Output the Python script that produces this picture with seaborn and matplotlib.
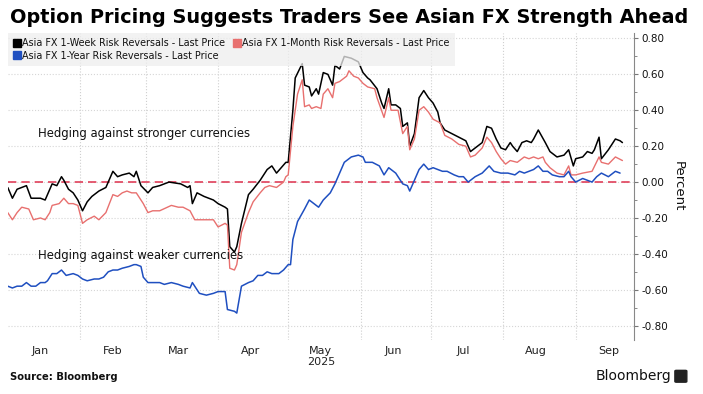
import pandas as pd
import matplotlib.pyplot as plt
import seaborn as sns
from matplotlib.lines import Line2D
from matplotlib.ticker import MultipleLocator, FuncFormatter
from matplotlib.patches import FancyBboxPatch

# Values (days counted from 1 Jan 2025)
week_days = [0, 2, 4, 8, 10, 14, 16, 19, 21, 23, 24, 26, 28, 30, 32, 34, 36, 39, 42, 45,
             47, 49, 52, 54, 55, 57, 60, 62, 65, 69, 74, 77, 78, 79, 81, 84, 88, 90, 93, 94,
             95, 97, 98, 100, 103, 105, 108, 111, 113, 115, 117, 119, 120, 122, 123, 126, 127, 129, 130, 132,
             133, 135, 137, 139, 140, 142, 144, 147, 150, 152, 154, 155, 158, 160, 161, 163, 164, 166, 168, 169,
             171, 172, 174, 176, 178, 180, 182, 184, 185, 187, 190, 193, 196, 198, 200, 203, 205, 207, 209, 211,
             213, 215, 216, 218, 220, 222, 224, 225, 227, 230, 232, 235, 238, 240, 242, 243, 246, 248, 250, 251,
             253, 254, 257, 260, 262, 263]
week_vals = [-0.03, -0.09, -0.04, -0.02, -0.09, -0.09, -0.10, -0.01, -0.02, 0.03, 0.01, -0.04, -0.06, -0.10, -0.16, -0.11, -0.08, -0.05, -0.03, 0.06,
             0.03, 0.04, 0.05, 0.03, 0.06, -0.02, -0.06, -0.03, -0.02, 0.00, -0.01, -0.03, -0.02, -0.12, -0.06, -0.08, -0.10, -0.12, -0.14, -0.15,
             -0.36, -0.39, -0.36, -0.23, -0.07, -0.04, 0.01, 0.07, 0.09, 0.05, 0.08, 0.11, 0.11, 0.40, 0.58, 0.66, 0.54, 0.53, 0.48, 0.52,
             0.49, 0.61, 0.60, 0.54, 0.65, 0.63, 0.70, 0.69, 0.67, 0.61, 0.58, 0.57, 0.52, 0.44, 0.41, 0.52, 0.43, 0.43, 0.41, 0.31,
             0.33, 0.20, 0.27, 0.47, 0.51, 0.47, 0.44, 0.39, 0.33, 0.29, 0.27, 0.25, 0.23, 0.17, 0.19, 0.22, 0.31, 0.30, 0.24, 0.19,
             0.18, 0.22, 0.20, 0.17, 0.22, 0.23, 0.22, 0.24, 0.29, 0.22, 0.17, 0.14, 0.15, 0.18, 0.09, 0.13, 0.14, 0.17, 0.16, 0.18,
             0.25, 0.13, 0.18, 0.24, 0.23, 0.22]

month_days = [0, 2, 4, 6, 9, 11, 14, 16, 18, 19, 22, 24, 26, 28, 30, 32, 34, 37, 39, 42,
              45, 47, 49, 51, 53, 55, 58, 60, 62, 65, 70, 73, 75, 78, 80, 84, 88, 90, 93, 94,
              95, 97, 98, 100, 103, 105, 108, 110, 112, 115, 118, 119, 120, 122, 124, 126, 127, 129, 130, 132,
              134, 135, 137, 139, 140, 142, 145, 146, 148, 150, 152, 154, 157, 158, 161, 163, 164, 167, 169, 171,
              172, 174, 176, 178, 180, 182, 185, 187, 190, 193, 196, 198, 200, 203, 205, 207, 209, 211, 213, 215,
              218, 221, 223, 225, 227, 229, 230, 232, 235, 238, 240, 241, 243, 246, 250, 253, 254, 257, 260, 263]
month_vals = [-0.17, -0.21, -0.17, -0.14, -0.15, -0.21, -0.20, -0.21, -0.17, -0.13, -0.12, -0.09, -0.12, -0.12, -0.13, -0.23, -0.21, -0.19, -0.21, -0.17,
              -0.07, -0.08, -0.06, -0.05, -0.06, -0.06, -0.12, -0.17, -0.16, -0.16, -0.13, -0.14, -0.14, -0.16, -0.21, -0.21, -0.21, -0.25, -0.23, -0.24,
              -0.48, -0.49, -0.46, -0.28, -0.17, -0.11, -0.06, -0.03, -0.02, -0.03, 0.00, 0.03, 0.04, 0.31, 0.49, 0.57, 0.42, 0.43, 0.41, 0.42,
              0.41, 0.49, 0.52, 0.47, 0.55, 0.56, 0.59, 0.62, 0.59, 0.58, 0.55, 0.53, 0.52, 0.47, 0.36, 0.47, 0.40, 0.40, 0.27, 0.31,
              0.18, 0.24, 0.40, 0.42, 0.39, 0.35, 0.33, 0.26, 0.24, 0.21, 0.20, 0.14, 0.15, 0.19, 0.25, 0.22, 0.17, 0.13, 0.10, 0.12,
              0.11, 0.14, 0.13, 0.14, 0.13, 0.14, 0.11, 0.08, 0.05, 0.04, 0.09, 0.04, 0.04, 0.05, 0.06, 0.14, 0.11, 0.10, 0.14, 0.12]

year_days = [0, 2, 4, 6, 8, 10, 12, 14, 16, 17, 19, 21, 23, 25, 28, 30, 32, 34, 37, 39,
             41, 43, 45, 47, 49, 52, 54, 55, 57, 58, 60, 62, 65, 67, 70, 73, 75, 78, 79, 82,
             85, 88, 90, 93, 94, 97, 98, 100, 103, 105, 107, 109, 111, 113, 116, 118, 120, 121, 122, 124,
             127, 129, 131, 133, 135, 138, 140, 142, 144, 147, 150, 152, 153, 156, 159, 161, 163, 164, 166, 169,
             171, 172, 174, 176, 178, 180, 182, 184, 186, 188, 191, 193, 195, 197, 200, 203, 206, 208, 211, 214,
             217, 219, 221, 223, 225, 227, 229, 231, 233, 236, 238, 240, 241, 243, 246, 248, 250, 252, 254, 257,
             260, 262]
year_vals = [-0.58, -0.59, -0.58, -0.58, -0.56, -0.58, -0.58, -0.56, -0.56, -0.55, -0.51, -0.51, -0.49, -0.52, -0.51, -0.52, -0.54, -0.55, -0.54, -0.54,
             -0.53, -0.50, -0.49, -0.49, -0.48, -0.47, -0.46, -0.46, -0.47, -0.53, -0.56, -0.56, -0.56, -0.57, -0.56, -0.57, -0.58, -0.59, -0.56, -0.62,
             -0.63, -0.62, -0.61, -0.61, -0.71, -0.72, -0.73, -0.58, -0.56, -0.55, -0.52, -0.52, -0.50, -0.51, -0.51, -0.49, -0.46, -0.46, -0.32, -0.22,
             -0.15, -0.10, -0.12, -0.14, -0.10, -0.06, -0.01, 0.05, 0.11, 0.14, 0.15, 0.14, 0.11, 0.11, 0.09, 0.04, 0.08, 0.07, 0.05, -0.01,
             -0.02, -0.05, 0.01, 0.07, 0.10, 0.07, 0.08, 0.07, 0.06, 0.06, 0.04, 0.03, 0.03, 0.00, 0.03, 0.05, 0.09, 0.06, 0.05, 0.05,
             0.04, 0.06, 0.05, 0.06, 0.07, 0.09, 0.06, 0.06, 0.04, 0.03, 0.03, 0.06, 0.03, 0.00, 0.02, 0.01, 0.00, 0.03, 0.05, 0.03,
             0.06, 0.05]

series_names = ["Asia FX 1-Week Risk Reversals - Last Price",
                "Asia FX 1-Month Risk Reversals - Last Price",
                "Asia FX 1-Year Risk Reversals - Last Price"]
series_colors = ["#000000", "#e8706f", "#1f4fc0"]
month_labels = ["Jan", "Feb", "Mar", "Apr", "May\n2025", "Jun", "Jul", "Aug", "Sep"]
y_ticks = [-0.8, -0.6, -0.4, -0.2, 0.0, 0.2, 0.4, 0.6, 0.8]

start = pd.Timestamp("2025-01-01")
frames = []
for name, days, vals in zip(series_names, [week_days, month_days, year_days], [week_vals, month_vals, year_vals]):
    frames.append(pd.DataFrame({"date": start + pd.to_timedelta(days, unit="D"), "value": vals, "series": name}))
df = pd.concat(frames, ignore_index=True)

sns.set_style("white")
plt.rcParams["font.family"] = ["DejaVu Sans"]
plt.rcParams["text.color"] = "#111111"

fig = plt.figure(figsize=(7.03, 3.94), dpi=100)
ax = fig.add_axes([0.011, 0.137, 0.891, 0.779])

ax.axhline(0, color="#e0405a", lw=1.2, ls=(0, (5, 3)), zorder=1)
sns.lineplot(data=df, x="date", y="value", hue="series", hue_order=series_names,
             palette=dict(zip(series_names, series_colors)), ax=ax, legend=False, zorder=2)
for line, lw in zip(ax.lines[1:], [1.1, 1.0, 1.1]):
    line.set_linewidth(lw)

ax.set_xlim(start, pd.Timestamp("2025-09-26"))
ax.set_ylim(-0.88, 0.83)

# month boundaries as grid, labels at mid-month
month_starts = pd.date_range("2025-01-01", periods=9, freq="MS")
ax.set_xticks(month_starts[1:])
ax.set_xticklabels([])
ax.set_xticks(month_starts + pd.Timedelta(days=14), minor=True)
ax.set_xticklabels(month_labels, minor=True, fontsize=8, color="#222222")
ax.tick_params(axis="x", which="both", length=0, pad=4)
ax.grid(axis="x", which="major", color="#cfcfcf", ls=":", lw=0.8)

ax.yaxis.tick_right()
ax.yaxis.set_label_position("right")
ax.set_yticks(y_ticks)
ax.yaxis.set_minor_locator(MultipleLocator(0.1))
ax.yaxis.set_major_formatter(FuncFormatter(lambda v, p: f"{v:.2f}"))
ax.tick_params(axis="y", which="major", length=3, color="#777777", labelsize=7.5, pad=2, labelcolor="#111111")
ax.tick_params(axis="y", which="minor", length=2, color="#777777")
ax.grid(axis="y", which="major", color="#d6d6d6", ls=":", lw=0.8)
ax.set_ylabel("Percent", rotation=-90, fontsize=9.5, labelpad=12, color="#111111")
ax.set_xlabel("")

for side in ["top", "left", "bottom"]:
    ax.spines[side].set_visible(False)
ax.spines["right"].set_color("#888888")

ax.text(start + pd.Timedelta(days=13), 0.27, "Hedging against stronger currencies", fontsize=8.4, va="center")
ax.text(start + pd.Timedelta(days=13), -0.41, "Hedging against weaker currencies", fontsize=8.4, va="center")

# legend: row 1 week + month, row 2 year
handles = [Line2D([], [], marker="s", ls="none", color=c, markersize=6) for c in series_colors]
order = [0, 2, 1]
leg = ax.legend([handles[i] for i in order], [series_names[i] for i in order], ncol=2,
                loc="upper left", bbox_to_anchor=(0, 1.0), fontsize=6.9, frameon=True,
                fancybox=False, facecolor="#eeeeee", edgecolor="none", framealpha=0.75,
                handletextpad=0.1, columnspacing=0.9, handlelength=0.8, borderpad=0.55,
                labelspacing=0.25, borderaxespad=0)
leg.set_zorder(5)

fig.text(0.014, 0.955, "Option Pricing Suggests Traders See Asian FX Strength Ahead",
         fontsize=13.9, fontweight="bold", va="center", color="#000000")
fig.text(0.014, 0.042, "Source: Bloomberg", fontsize=7.2, fontweight="bold", va="center")
fig.text(0.955, 0.045, "Bloomberg", fontsize=10, ha="right", va="center", color="#111111")
fig.patches.append(FancyBboxPatch((0.962, 0.032), 0.013, 0.026, boxstyle="round,pad=0.002",
                                  transform=fig.transFigure, color="#222222"))

fig.savefig("out.png", dpi=100)
